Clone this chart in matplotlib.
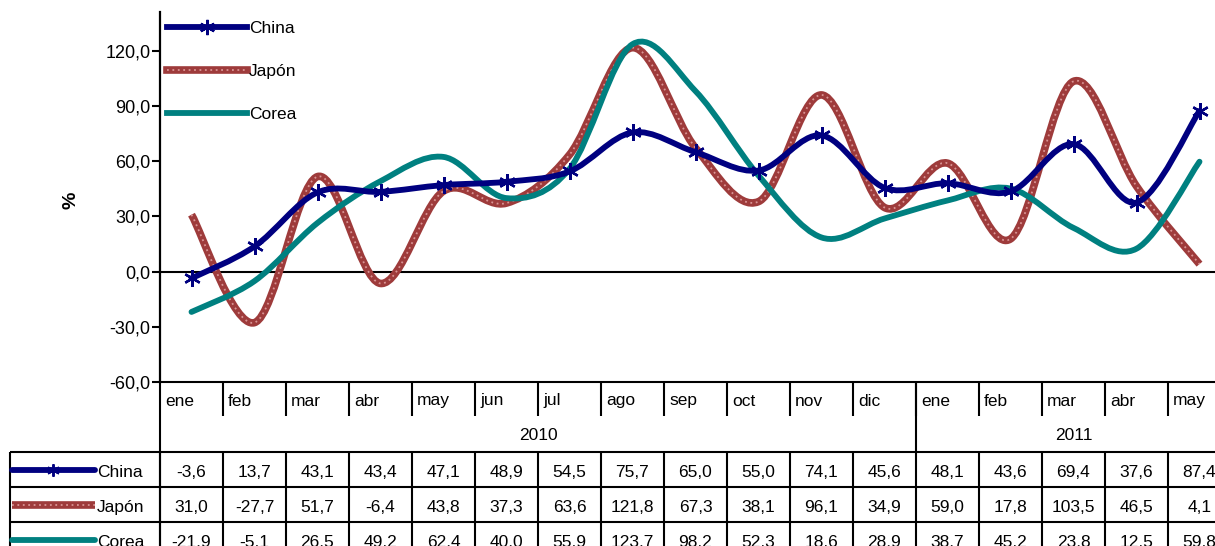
import matplotlib
matplotlib.use('Agg')
import matplotlib.pyplot as plt
from matplotlib.path import Path
from matplotlib.patches import PathPatch
from matplotlib.lines import Line2D
from matplotlib.legend_handler import HandlerTuple
import numpy as np

# ---------------- data ----------------
months = ['ene', 'feb', 'mar', 'abr', 'may', 'jun', 'jul', 'ago', 'sep', 'oct', 'nov', 'dic',
          'ene', 'feb', 'mar', 'abr', 'may']
years = ['2010', '2011']
year_counts = [12, 5]
china = [-3.6, 13.7, 43.1, 43.4, 47.1, 48.9, 54.5, 75.7, 65.0, 55.0, 74.1, 45.6,
         48.1, 43.6, 69.4, 37.6, 87.4]
japon = [31.0, -27.7, 51.7, -6.4, 43.8, 37.3, 63.6, 121.8, 67.3, 38.1, 96.1, 34.9,
         59.0, 17.8, 103.5, 46.5, 4.1]
corea = [-21.9, -5.1, 26.5, 49.2, 62.4, 40.0, 55.9, 123.7, 98.2, 52.3, 18.6, 28.9,
         38.7, 45.2, 23.8, 12.5, 59.8]
series_names = ['China', 'Japón', 'Corea']
yticks = [-60, -30, 0, 30, 60, 90, 120]
ylabel = '%'

plt.rcParams['font.family'] = ['Liberation Sans', 'DejaVu Sans']

NAVY = '#000080'
JAP = '#9E3B3B'
JAP_LIGHT = '#D99494'
TEAL = '#008080'

W, H = 1215, 546
fig = plt.figure(figsize=(W / 100, H / 100), dpi=100)

# layout (pixels)
ax_left, ax_right, ax_top, ax_bot = 160, 1231, 12, 382
colw = (ax_right - ax_left) / len(months)

ax = fig.add_axes([ax_left / W, 1 - ax_bot / H, (ax_right - ax_left) / W, (ax_bot - ax_top) / H])
n = len(months)
x = np.arange(n)
ax.set_xlim(-0.5, n - 0.5)
px_per_unit = (ax_bot - 51) / (120 - (-60))
ax.set_ylim(-60, 120 + (51 - ax_top) / px_per_unit)


def smooth_path(xs, ys):
    xs = np.asarray(xs, float)
    ys = np.asarray(ys, float)
    m = len(xs)
    verts = [(xs[0], ys[0])]
    codes = [Path.MOVETO]
    for i in range(m - 1):
        p0 = np.array([xs[max(i - 1, 0)], ys[max(i - 1, 0)]])
        p1 = np.array([xs[i], ys[i]])
        p2 = np.array([xs[i + 1], ys[i + 1]])
        p3 = np.array([xs[min(i + 2, m - 1)], ys[min(i + 2, m - 1)]])
        c1 = p1 + (p2 - p0) / 6
        c2 = p2 - (p3 - p1) / 6
        verts += [tuple(c1), tuple(c2), tuple(p2)]
        codes += [Path.CURVE4] * 3
    return Path(verts, codes)


# zero line
ax.axhline(0, color='black', lw=1.5, zorder=1)

# series
ax.add_patch(PathPatch(smooth_path(x, japon), fill=False, ec=JAP, lw=5.5,
                       capstyle='butt', joinstyle='round', zorder=3))
ax.add_patch(PathPatch(smooth_path(x, japon), fill=False, ec=JAP_LIGHT, lw=1.3,
                       linestyle=(0, (1, 2)), zorder=3.1))
ax.add_patch(PathPatch(smooth_path(x, corea), fill=False, ec=TEAL, lw=4.2,
                       capstyle='round', joinstyle='round', zorder=4))
ax.add_patch(PathPatch(smooth_path(x, china), fill=False, ec=NAVY, lw=4.2,
                       capstyle='round', joinstyle='round', zorder=5))
ax.plot(x, china, linestyle='none', marker=(6, 2, 0), ms=12, mew=1.7, mec=NAVY,
        color=NAVY, zorder=6)

# axes styling
for s in ['top', 'right', 'bottom']:
    ax.spines[s].set_visible(False)
ax.spines['left'].set_linewidth(1.6)
ax.set_xticks([])
ax.set_yticks(yticks)
ax.set_yticklabels([f"{v:.1f}".replace('.', ',') for v in yticks], fontsize=13)
ax.tick_params(axis='y', direction='out', length=6, width=1.5, pad=1)
ax.set_ylabel(ylabel, fontsize=14, fontweight='bold', labelpad=0)
ax.yaxis.set_label_coords((80 - ax_left) / (ax_right - ax_left), 1 - (200 - ax_top) / (ax_bot - ax_top))

# legend
h_china = Line2D([], [], color=NAVY, lw=4.2, marker=(6, 2, 0), ms=11, mew=1.6)
h_jap_base = Line2D([], [], color=JAP, lw=5.5)
h_jap_top = Line2D([], [], color=JAP_LIGHT, lw=1.3, linestyle=(0, (1, 2)))
h_corea = Line2D([], [], color=TEAL, lw=4.2)
leg = ax.legend([h_china, (h_jap_base, h_jap_top), h_corea], series_names,
                loc='upper left', bbox_to_anchor=(167 / W, 1 - 21 / H),
                bbox_transform=fig.transFigure, frameon=False, fontsize=12.5,
                handlelength=4.6, handletextpad=0.12, labelspacing=1.6,
                borderpad=0, borderaxespad=0, numpoints=1,
                handler_map={tuple: HandlerTuple(ndivide=1)})

# ---------------- data table ----------------
tleft = 10
tax = fig.add_axes([tleft / W, 0, (ax_right - tleft) / W, (H - ax_bot) / H])
tax.set_xlim(-0.5 - (ax_left - tleft) / colw, n - 0.5)
tax.set_ylim(H, ax_bot)
tax.axis('off')
xl = -0.5 - (ax_left - tleft) / colw
LW = 1.5
kw = dict(color='black', lw=LW, solid_capstyle='butt', clip_on=False)

month_row_bot = 416
year_row_bot = 452
row_lines = [452, 487, 522, 557]

tax.plot([-0.5, n - 0.5], [ax_bot, ax_bot], **kw)
tax.plot([-0.5, -0.5], [ax_bot, H], **kw)
for i in range(1, n):
    tax.plot([i - 0.5, i - 0.5], [ax_bot, month_row_bot], **kw)
# year separators
start = 0
year_centers = []
for cnt in year_counts:
    end = start + cnt
    year_centers.append((start - 0.5 + end - 0.5) / 2)
    if end < n:
        tax.plot([end - 0.5, end - 0.5], [ax_bot, year_row_bot], **kw)
    start = end
for i, mth in enumerate(months):
    tax.text(i - 0.5 + 5 / colw, 401, mth, ha='left', va='center', fontsize=12.5)
for yc, yr in zip(year_centers, years):
    tax.text(yc, 435, yr, ha='center', va='center', fontsize=12.5)

# data rows
for yl in row_lines[:-1]:
    tax.plot([xl, n - 0.5], [yl, yl], **kw)
tax.plot([xl, xl], [row_lines[0], H], **kw)
for i in range(n):
    tax.plot([i - 0.5, i - 0.5], [row_lines[0], H], **kw)

all_series = [china, japon, corea]
key_x0 = xl + (12 - tleft) / colw
key_x1 = xl + (95 - tleft) / colw
name_x = xl + (97 - tleft) / colw
for r, (name, vals) in enumerate(zip(series_names, all_series)):
    yc = (row_lines[r] + row_lines[r + 1]) / 2
    ykey = yc + 0.5
    if r == 0:
        tax.plot([key_x0, key_x1], [ykey, ykey], color=NAVY, lw=4.2, solid_capstyle='round', clip_on=False)
        tax.plot([(key_x0 + key_x1) / 2], [ykey], linestyle='none', marker=(6, 2, 0), ms=9,
                 mew=1.4, mec=NAVY, clip_on=False)
    elif r == 1:
        tax.plot([key_x0, key_x1], [ykey, ykey], color=JAP, lw=5.5, solid_capstyle='butt', clip_on=False)
        tax.plot([key_x0, key_x1], [ykey, ykey], color=JAP_LIGHT, lw=1.3, linestyle=(0, (1, 2)), clip_on=False)
    else:
        tax.plot([key_x0, key_x1], [ykey, ykey], color=TEAL, lw=4.2, solid_capstyle='round', clip_on=False)
    tax.text(name_x, yc + 3, name, ha='left', va='center', fontsize=12.5)
    for i, v in enumerate(vals):
        tax.text(i, yc + 3, f"{v:.1f}".replace('.', ','), ha='center', va='center', fontsize=12.5)

fig.savefig('out.png', dpi=100)
